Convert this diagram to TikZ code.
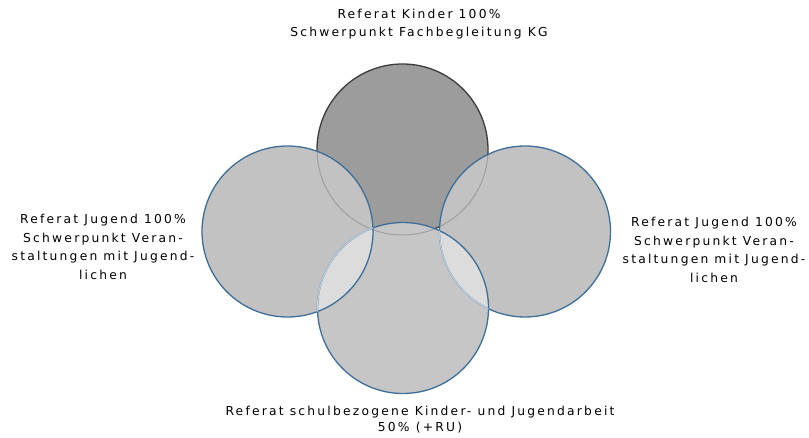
\documentclass[tikz,border=0pt]{standalone}
\usepackage{fontspec}
\setmainfont{DejaVu Sans}[LetterSpace=18]
\definecolor{ringblue}{HTML}{3D6F9A}
\definecolor{kindfill}{HTML}{9C9C9C}
\definecolor{kindline}{HTML}{3C3C3C}
\definecolor{jugfill}{HTML}{C2C2C2}
\definecolor{schulfill}{HTML}{C6C6C6}
\definecolor{lensfill}{HTML}{DCDCDC}
\begin{document}
\begin{tikzpicture}[x=1pt,y=-1pt,line join=round,line cap=round,font=\fontsize{12.3}{18.5}\selectfont,
  txt/.style={align=center,inner sep=0pt},
  ring/.style={draw=ringblue,line width=1.3pt}]
\useasboundingbox (0,0) rectangle (809,438);
\def\rad{85.5}
\coordinate (kinder) at (402.5,149.5);
\coordinate (jugl) at (287.5,231.5);
\coordinate (jugr) at (525,231.5);
\coordinate (schul) at (403,308);
% circles
\fill[kindfill] (kinder) circle (\rad);
\draw[kindline,line width=1.3pt] (kinder) circle (\rad);
\fill[jugfill] (jugl) circle (\rad) (jugr) circle (\rad);
\fill[schulfill] (schul) circle (\rad);
\begin{scope}
\clip (schul) circle (\rad);
\fill[lensfill] (jugl) circle (\rad) (jugr) circle (\rad);
\end{scope}
\begin{scope}
\clip (jugl) circle (\rad) (jugr) circle (\rad) (schul) circle (\rad);
\draw[gray!75,line width=1pt] (kinder) circle (\rad);
\end{scope}
\draw[ring] (jugl) circle (\rad) (jugr) circle (\rad) (schul) circle (\rad);
\begin{scope}
\clip (jugl) circle (\rad);
\draw[ring,draw=ringblue!35] (schul) circle (\rad);
\end{scope}
\begin{scope}
\clip (schul) circle (\rad);
\draw[ring,draw=ringblue!35] (jugr) circle (\rad);
\end{scope}
% labels
\node[txt] (kindtxt) at (419,24) {Referat Kinder 100\%\\Schwerpunkt Fachbegleitung KG};
\node[txt] (jugltxt) at (103,247) {Referat Jugend 100\%\\Schwerpunkt Veran-\\staltungen mit Jugend-\\lichen};
\node[txt] (jugrtxt) at (714,250) {Referat Jugend 100\%\\Schwerpunkt Veran-\\staltungen mit Jugend-\\lichen};
\node[txt] (schultxt) at (420,420) {Referat schulbezogene Kinder- und Jugendarbeit\\[-2.5pt]50\% (+RU)};
\end{tikzpicture}
\end{document}
